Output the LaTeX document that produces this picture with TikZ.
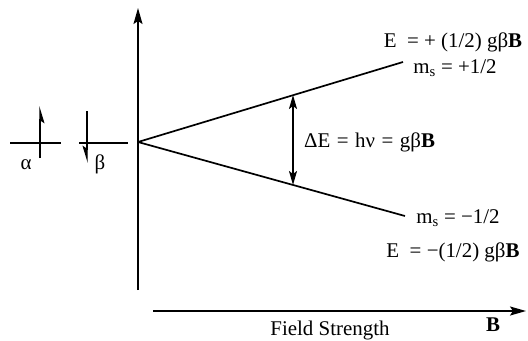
\documentclass[tikz,border=0pt]{standalone}
\usepackage{fontspec}
\setmainfont{Liberation Serif}
\usetikzlibrary{arrows.meta}
\begin{document}
\begin{tikzpicture}[x=1bp,y=-1bp,
  ln/.style={line width=1.7bp},
  axarrow/.style={ln,-{Stealth[length=16bp,width=9bp,inset=3bp]}},
  dblarrow/.style={ln,{Stealth[length=14bp,width=8bp,inset=3bp]}-{Stealth[length=14bp,width=8bp,inset=3bp]}},
  spinup/.style={line width=1.4bp,-{Stealth[right,length=15bp,width=9bp,inset=3bp]}},
  lbl/.style={inner sep=0pt,font=\fontsize{21}{25}\selectfont}]
\useasboundingbox (0,0) rectangle (528,340);
% axes
\coordinate (vb) at (138,290);
\coordinate (vt) at (138,8);
\coordinate (hl) at (153,311);
\coordinate (hr) at (526,311);
\draw[axarrow] (vb) -- (vt);
\draw[axarrow] (hl) -- (hr);
% levels
\coordinate (O) at (138,142);
\coordinate (U) at (403,62);
\coordinate (L) at (405,216);
\draw[ln] (O) -- (U);
\draw[ln] (O) -- (L);
\coordinate (du) at (293,95);
\coordinate (dl) at (293,185);
\draw[dblarrow] (du) -- (dl);
% alpha / beta levels
\coordinate (a1) at (10,143);
\coordinate (a2) at (61,143);
\coordinate (b1) at (79,143);
\coordinate (b2) at (128,143);
\draw[ln] (a1) -- (a2);
\draw[ln] (b1) -- (b2);
\coordinate (as) at (40,158);
\coordinate (ae) at (40,106);
\coordinate (bs) at (87,111);
\coordinate (be) at (87,163);
\draw[spinup] (as) -- (ae);
\draw[spinup] (bs) -- (be);
% labels
\node[lbl] (alpha) at (26,165) {α};
\node[lbl] (beta) at (100,164) {β};
\node[lbl] (Eup) at (453,42) {E \ = + (1/2) gβ\textbf{B}};
\node[lbl] (msup) at (455,68) {m\textsubscript{s} = +1/2};
\node[lbl,anchor=west] (dE) at (304,142) {\spaceskip=6.5bp ΔE = hν = gβ\textbf{B}};
\node[lbl] (msdn) at (458,218) {m\textsubscript{s} = −1/2};
\node[lbl] (Edn) at (453,252) {E \ = −(1/2) gβ\textbf{B}};
\node[lbl] (fs) at (330,330) {Field Strength};
\node[lbl] (B) at (493,325) {\textbf{B}};
\end{tikzpicture}
\end{document}
